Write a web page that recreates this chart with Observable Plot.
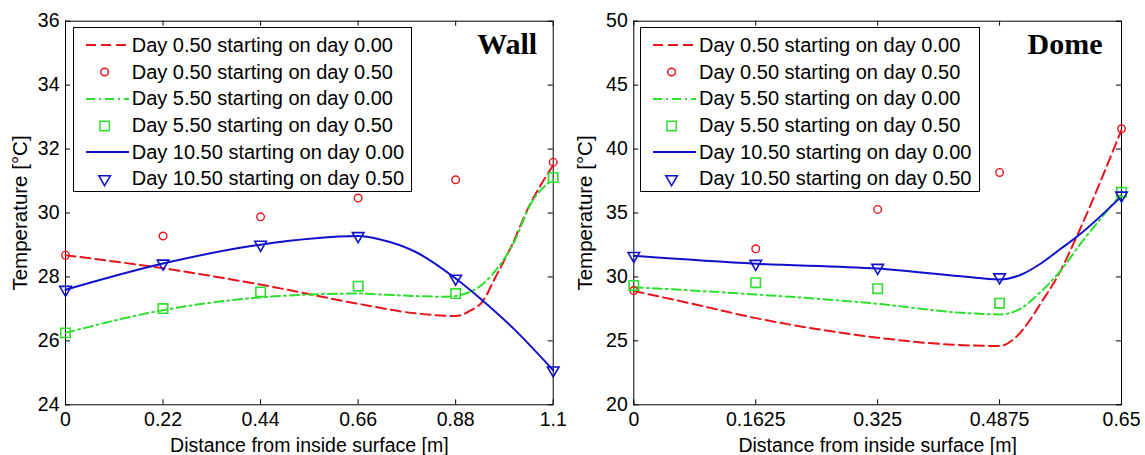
<!DOCTYPE html>
<html><head><meta charset="utf-8">
<script src="https://cdn.jsdelivr.net/npm/d3@7"></script>
<script src="https://cdn.jsdelivr.net/npm/@observablehq/plot@0.6"></script>
<style>
body{margin:0;background:#fff;}
#wrap{position:relative;width:1145px;height:455px;overflow:hidden;font-family:"Liberation Sans",Arial,sans-serif;background:#fff;}
.panel{position:absolute;top:0;}
.legend{position:absolute;border:1px solid #000;background:#fff;box-sizing:border-box;}
.row{position:absolute;left:0;height:26px;display:flex;align-items:center;white-space:nowrap;font-size:20px;color:#000;}
.row svg{flex:none;}
</style></head><body><div id="wrap"></div>
<script>
// ---------- data ----------
const seriesLabels = [
  "Day 0.50 starting on day 0.00",
  "Day 0.50 starting on day 0.50",
  "Day 5.50 starting on day 0.00",
  "Day 5.50 starting on day 0.50",
  "Day 10.50 starting on day 0.00",
  "Day 10.50 starting on day 0.50"
];
const xLabelText = "Distance from inside surface [m]";
const yLabelText = "Temperature [°C]";

// Wall panel
const wallXTicks = [0, 0.22, 0.44, 0.66, 0.88, 1.1];
const wallYTicks = [24, 26, 28, 30, 32, 34, 36];
const wallNodes = [0, 0.22, 0.44, 0.66, 0.88, 1.1];
const wallCircles = [28.68, 29.28, 29.88, 30.47, 31.04, 31.59];
const wallSquares = [26.25, 27.01, 27.53, 27.71, 27.48, 31.11];
const wallTriangles = [27.6, 28.42, 29.01, 29.28, 27.95, 25.08];
const wallRedX = [0, 0.22, 0.44, 0.66, 0.79, 0.88, 0.915, 0.94, 0.97, 1.005, 1.045, 1.1];
const wallRedY = [28.68, 28.27, 27.76, 27.16, 26.86, 26.78, 26.96, 27.22, 28.0, 28.94, 30.19, 31.5];
const wallGreenX = [0, 0.22, 0.44, 0.66, 0.71, 0.86, 0.92, 0.97, 1.01, 1.05, 1.1];
const wallGreenY = [26.25, 26.96, 27.36, 27.48, 27.45, 27.38, 27.58, 28.2, 29.04, 30.3, 31.05];
const wallBlueX = [0, 0.22, 0.44, 0.66, 0.71, 0.79, 0.88, 0.94, 1.01, 1.1];
const wallBlueY = [27.6, 28.42, 29.01, 29.28, 29.17, 28.78, 27.95, 27.27, 26.39, 25.08];

// Dome panel
const domeXTicks = [0, 0.1625, 0.325, 0.4875, 0.65];
const domeYTicks = [20, 25, 30, 35, 40, 45, 50];
const domeNodes = [0, 0.1625, 0.325, 0.4875, 0.65];
const domeCircles = [28.94, 32.2, 35.28, 38.17, 41.59];
const domeSquares = [29.33, 29.55, 29.08, 27.95, 36.63];
const domeTriangles = [31.65, 31.03, 30.72, 29.98, 36.37];
const domeRedX = [0, 0.078, 0.1625, 0.241, 0.325, 0.419, 0.4875, 0.507, 0.5245, 0.542, 0.569, 0.589, 0.65];
const domeRedY = [28.9, 27.9, 26.78, 25.95, 25.25, 24.72, 24.6, 25.17, 26.34, 27.9, 30.5, 32.99, 41.5];
const domeGreenX = [0, 0.1625, 0.325, 0.436, 0.4875, 0.511, 0.542, 0.569, 0.5955, 0.65];
const domeGreenY = [29.2, 28.63, 27.9, 27.2, 27.07, 27.38, 28.81, 30.5, 32.6, 36.5];
const domeBlueX = [0, 0.1625, 0.325, 0.436, 0.4875, 0.516, 0.542, 0.569, 0.5955, 0.65];
const domeBlueY = [31.65, 31.03, 30.65, 30.05, 29.8, 30.17, 31.03, 32.2, 33.38, 36.3];

// ---------- styling ----------
const RED = "#e8141b", GREEN = "#2ee02e", BLUE = "#1010cc";
const DASH = "10,5", DASHDOT = "9,4,2,4";
const H = 455, MT = 20.7, MB = 50.7;
const FONT = "Liberation Sans, Arial, sans-serif";

const triangleDown = {
  draw(ctx, size) {
    const y = -Math.sqrt(size / (3 * Math.sqrt(3)));
    ctx.moveTo(0, -2 * y);
    ctx.lineTo(-Math.sqrt(3) * y, y);
    ctx.lineTo(Math.sqrt(3) * y, y);
    ctx.closePath();
  }
};
const MARK = {
  circle: {symbol: "circle", r: 3.8, stroke: RED},
  square: {symbol: "square", r: 5.3, stroke: GREEN},
  tri: {symbol: triangleDown, r: 4.3, stroke: BLUE}
};

function panel(cfg) {
  const W = cfg.width;
  const plotH = H - MT - MB, plotW = W - cfg.ml - cfg.mr;
  const pts = (xs, ys) => xs.map((x, i) => ({x, y: ys[i]}));
  const marks = [
    Plot.frame({stroke: "black", strokeWidth: 1}),
    Plot.tickX(cfg.xTicks, {x: d => d, stroke: "black", insetTop: plotH - 5}),
    Plot.tickX(cfg.xTicks, {x: d => d, stroke: "black", insetBottom: plotH - 5}),
    Plot.tickY(cfg.yTicks, {y: d => d, stroke: "black", insetRight: plotW - 5}),
    Plot.tickY(cfg.yTicks, {y: d => d, stroke: "black", insetLeft: plotW - 5}),
    Plot.line(pts(cfg.redX, cfg.redY), {x: "x", y: "y", stroke: RED, strokeWidth: 2, strokeDasharray: DASH, curve: "monotone-x"}),
    Plot.line(pts(cfg.greenX, cfg.greenY), {x: "x", y: "y", stroke: GREEN, strokeWidth: 2, strokeDasharray: DASHDOT, curve: "monotone-x"}),
    Plot.line(pts(cfg.blueX, cfg.blueY), {x: "x", y: "y", stroke: BLUE, strokeWidth: 2, curve: "monotone-x"}),
    Plot.dot(pts(cfg.nodes, cfg.circles), {x: "x", y: "y", ...MARK.circle, fill: "none", strokeWidth: 1.4}),
    Plot.dot(pts(cfg.nodes, cfg.squares), {x: "x", y: "y", ...MARK.square, fill: "none", strokeWidth: 1.6}),
    Plot.dot(pts(cfg.nodes, cfg.triangles), {x: "x", y: "y", ...MARK.tri, fill: "none", strokeWidth: 1.6}),
    Plot.text([cfg.title], {frameAnchor: "top-right", text: d => d, dx: -cfg.titleDx, dy: 23, textAnchor: "end", lineAnchor: "middle",
      fontFamily: "Liberation Serif, Times New Roman, serif", fontWeight: "bold", fontSize: 30, fill: "black"}),
    Plot.axisX(cfg.xTicks, {tickSize: 0, tickPadding: 7, tickFormat: d => String(d), fontSize: 19.5, label: xLabelText,
      labelAnchor: "center", labelOffset: 47, labelArrow: "none"}),
    Plot.axisY(cfg.yTicks, {tickSize: 0, tickPadding: 6, tickFormat: d => String(d), fontSize: 19.5, label: null}),
    Plot.axisY(cfg.yTicks, {tickSize: 0, tickPadding: 6, text: null, ticks: [], fontSize: 20.5, label: yLabelText,
      labelAnchor: "center", labelOffset: cfg.ylo, labelArrow: "none"})
  ];
  return Plot.plot({
    width: W, height: H,
    marginLeft: cfg.ml, marginRight: cfg.mr, marginTop: MT, marginBottom: MB,
    x: {domain: cfg.xDomain},
    y: {domain: cfg.yDomain},
    style: {fontFamily: FONT, fontSize: "19.5px", color: "black", background: "white", overflow: "visible"},
    marks
  });
}

function legend(left, top, width) {
  const box = document.createElement("div");
  box.className = "legend";
  Object.assign(box.style, {left: left + "px", top: top + "px", width: width + "px", height: "164.4px"});
  const kinds = [
    {line: RED, dash: DASH}, {mark: MARK.circle},
    {line: GREEN, dash: DASHDOT}, {mark: MARK.square},
    {line: BLUE, dash: null}, {mark: MARK.tri}
  ];
  seriesLabels.forEach((lab, i) => {
    const row = document.createElement("div");
    row.className = "row";
    row.style.top = (17.2 + i * 26.67 - 13) + "px";
    const svg = d3.create("svg").attr("width", 58).attr("height", 26);
    const k = kinds[i];
    if (k.line) {
      svg.append("line").attr("x1", 12).attr("x2", 55).attr("y1", 13).attr("y2", 13)
        .attr("stroke", k.line).attr("stroke-width", 2).attr("stroke-dasharray", k.dash);
    } else {
      const m = k.mark;
      const sym = m.symbol === "circle" ? d3.symbolCircle : m.symbol === "square" ? d3.symbolSquare : m.symbol;
      svg.append("path").attr("d", d3.symbol(sym, Math.PI * m.r * m.r)())
        .attr("transform", "translate(30.6,13)").attr("fill", "none").attr("stroke", m.stroke).attr("stroke-width", 1.5);
    }
    row.appendChild(svg.node());
    const t = document.createElement("span");
    t.textContent = lab;
    row.appendChild(t);
    box.appendChild(row);
  });
  return box;
}

const wrap = document.getElementById("wrap");
const left = document.createElement("div"); left.className = "panel"; left.style.left = "0px";
left.appendChild(panel({
  width: 572, ml: 65, mr: 19.3, ylo: 53, titleDx: 16,
  xDomain: [0, 1.1], yDomain: [24, 36], xTicks: wallXTicks, yTicks: wallYTicks,
  nodes: wallNodes, circles: wallCircles, squares: wallSquares, triangles: wallTriangles,
  redX: wallRedX, redY: wallRedY, greenX: wallGreenX, greenY: wallGreenY, blueX: wallBlueX, blueY: wallBlueY,
  title: "Wall"
}));
wrap.appendChild(left);
const right = document.createElement("div"); right.className = "panel"; right.style.left = "572px";
right.appendChild(panel({
  width: 573, ml: 61.3, mr: 24, ylo: 56, titleDx: 19,
  xDomain: [0, 0.65], yDomain: [20, 50], xTicks: domeXTicks, yTicks: domeYTicks,
  nodes: domeNodes, circles: domeCircles, squares: domeSquares, triangles: domeTriangles,
  redX: domeRedX, redY: domeRedY, greenX: domeGreenX, greenY: domeGreenY, blueX: domeBlueX, blueY: domeBlueY,
  title: "Dome"
}));
wrap.appendChild(right);
wrap.appendChild(legend(72.7, 27.3, 339.3));
wrap.appendChild(legend(640, 27.3, 340));
</script></body></html>
